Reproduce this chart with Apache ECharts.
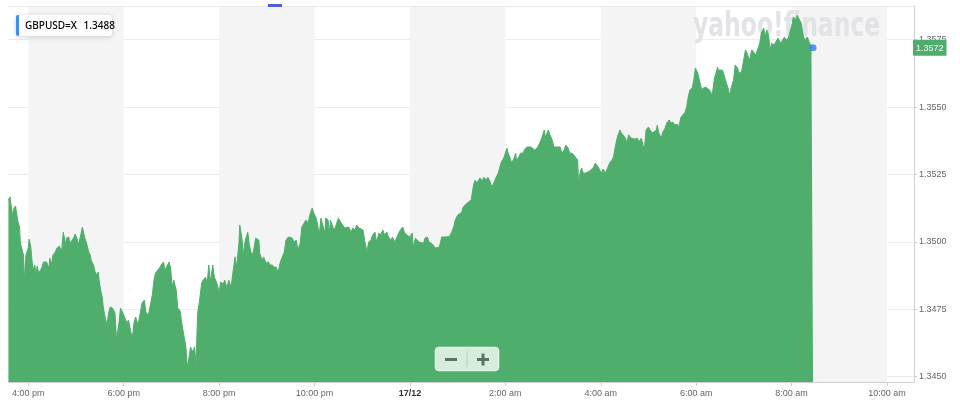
<!DOCTYPE html>
<html><head><meta charset="utf-8">
<script src="https://cdn.jsdelivr.net/npm/echarts@6/dist/echarts.min.js"></script>
<style>html,body{margin:0;padding:0;background:#fff}#c{width:960px;height:410px}</style>
</head><body><div id="c"></div><script>
// ---- data ----
const symbolName = 'GBPUSD=X';
const legendValue = '1.3488';
const watermark = 'yahoo!finance';
const startDay = [2021, 11, 16]; // 16 Dec (afternoon), next day 17/12
const axisStart = '15:34:28';
const axisEnd = '10:33:58';
const xTicks = ['16:00','18:00','20:00','22:00','00:00','02:00','04:00','06:00','08:00','10:00'];
const yTicks = [1.3450, 1.3475, 1.3500, 1.3525, 1.3550, 1.3575];
const yMin = 1.34480, yMax = 1.35875;
const times = [
'15:35','15:37','15:38','15:40','15:42','15:44','15:45','15:47','15:49','15:50','15:52','15:54','15:55','15:57',
'16:00','16:01','16:03','16:05','16:06','16:08','16:10','16:11','16:13','16:15','16:17','16:19','16:21','16:23','16:26','16:27','16:29','16:31','16:34','16:36','16:39','16:42','16:44','16:47','16:48','16:51','16:52','16:55','16:57','16:59',
'17:02','17:03','17:06','17:08','17:11','17:13','17:14','17:16','17:18','17:19','17:22','17:24','17:26','17:28','17:29','17:31','17:33','17:34','17:36','17:39','17:41','17:43','17:46','17:49','17:51','17:54','17:56','17:59',
'18:01','18:04','18:06','18:09','18:11','18:13','18:15','18:18','18:21','18:23','18:26','18:28','18:31','18:33','18:36','18:38','18:40','18:42','18:45','18:47','18:50','18:52','18:55','18:57','18:59',
'19:01','19:03','19:06','19:08','19:11','19:13','19:16','19:18','19:20','19:23','19:24','19:27','19:29','19:31','19:33','19:35','19:38','19:40','19:43','19:45','19:47','19:49','19:52','19:54','19:57',
'20:00','20:02','20:05','20:07','20:10','20:12','20:15','20:17','20:20','20:22','20:25','20:26','20:29','20:30','20:33','20:36','20:38','20:41','20:43','20:46','20:48','20:50','20:51','20:54','20:56','20:59',
'21:02','21:04','21:07','21:09','21:12','21:14','21:17','21:19','21:22','21:24','21:27','21:29','21:32','21:34','21:37','21:39','21:42','21:44','21:47','21:49','21:52','21:54','21:57','21:59',
'22:02','22:04','22:06','22:08','22:10','22:13','22:14','22:17','22:19','22:20','22:23','22:25','22:28','22:30','22:33','22:35','22:38','22:40','22:43','22:46','22:48','22:51','22:53','22:56','22:58',
'23:01','23:03','23:06','23:08','23:11','23:13','23:16','23:18','23:21','23:23','23:26','23:28','23:31','23:33','23:36','23:38','23:41','23:43','23:46','23:48','23:51','23:53','23:56','23:58',
'00:00','00:03','00:04','00:07','00:09','00:12','00:14','00:17','00:19','00:22','00:24','00:27','00:29','00:32','00:34','00:37','00:40','00:42','00:45','00:47','00:50','00:52','00:55','00:57',
'01:00','01:02','01:05','01:07','01:09','01:12','01:14','01:17','01:20','01:22','01:24','01:28','01:31','01:33','01:36','01:38','01:41','01:43','01:46','01:48','01:51','01:53','01:55','01:57','01:58',
'02:00','02:02','02:03','02:06','02:08','02:11','02:13','02:14','02:17','02:19','02:22','02:24','02:27','02:29','02:32','02:34','02:37','02:40','02:42','02:45','02:47','02:49','02:50','02:53','02:54','02:56','02:58',
'03:00','03:01','03:04','03:06','03:09','03:11','03:14','03:16','03:19','03:21','03:24','03:26','03:29','03:31','03:32','03:34','03:36','03:38','03:41','03:43','03:46','03:48','03:51','03:53','03:56','03:58',
'04:01','04:03','04:06','04:09','04:11','04:14','04:16','04:18','04:20','04:21','04:24','04:26','04:28','04:31','04:33','04:35','04:38','04:40','04:43','04:46','04:48','04:51','04:53','04:55','04:57',
'05:00','05:02','05:05','05:07','05:10','05:11','05:13','05:16','05:18','05:21','05:23','05:26','05:28','05:31','05:33','05:36','05:38','05:41','05:43','05:46','05:48','05:50','05:52','05:55','05:57','05:59',
'06:02','06:04','06:07','06:09','06:12','06:14','06:17','06:19','06:21','06:23','06:25','06:27','06:28','06:30','06:33','06:35','06:38','06:40','06:42','06:44','06:47','06:49','06:52','06:54','06:57','06:59',
'07:02','07:04','07:07','07:10','07:12','07:15','07:17','07:20','07:22','07:25','07:27','07:29','07:31','07:33','07:35','07:38','07:40','07:43','07:46','07:48','07:51','07:53','07:56','07:58',
'08:01','08:02','08:05','08:07','08:10','08:12','08:15','08:17','08:20','08:22','08:25','08:27'
];
const prices = [
1.35155,1.35167,1.35162,1.35099,1.35125,1.35133,1.35112,1.35074,1.35055,1.34995,1.34988,1.34951,1.34858,1.34951,
1.34977,1.35010,1.34984,1.34921,1.34895,1.34914,1.34877,1.34910,1.34884,1.34884,1.34903,1.34925,1.34921,1.34925,1.34903,1.34940,1.34914,1.34951,1.34962,1.34977,1.34984,1.34966,1.35036,1.34988,1.35014,1.35018,1.34995,1.35006,1.35014,1.35029,
1.35006,1.34988,1.35025,1.35055,1.35014,1.34999,1.35006,1.34962,1.34951,1.34932,1.34914,1.34888,1.34877,1.34888,1.34858,1.34821,1.34795,1.34765,1.34728,1.34691,1.34736,1.34758,1.34754,1.34736,1.34636,1.34699,1.34754,1.34736,
1.34736,1.34699,1.34710,1.34665,1.34647,1.34702,1.34721,1.34691,1.34739,1.34773,1.34784,1.34739,1.34728,1.34732,1.34803,1.34858,1.34884,1.34888,1.34903,1.34914,1.34925,1.34895,1.34914,1.34925,1.34903,
1.34832,1.34858,1.34821,1.34754,1.34743,1.34699,1.34647,1.34617,1.34535,1.34587,1.34610,1.34591,1.34610,1.34550,1.34736,1.34773,1.34847,1.34858,1.34869,1.34847,1.34914,1.34851,1.34914,1.34869,1.34847,
1.34814,1.34851,1.34843,1.34858,1.34829,1.34858,1.34832,1.34877,1.34944,1.34906,1.34999,1.35062,1.35006,1.34951,1.35006,1.35036,1.34988,1.34951,1.34962,1.35014,1.35018,1.35006,1.34958,1.34932,1.34944,1.34921,
1.34925,1.34914,1.34914,1.34906,1.34906,1.34884,1.34925,1.34940,1.34962,1.35006,1.35018,1.35014,1.35014,1.34999,1.35006,1.34970,1.34995,1.35055,1.35070,1.35081,1.35070,1.35099,1.35125,1.35107,
1.35088,1.35062,1.35025,1.35088,1.35081,1.35033,1.35088,1.35081,1.35033,1.35081,1.35055,1.35044,1.35070,1.35088,1.35073,1.35066,1.35051,1.35044,1.35055,1.35036,1.35051,1.35044,1.35062,1.35051,1.35055,
1.35044,1.35006,1.34962,1.34999,1.35006,1.35025,1.35036,1.34999,1.35033,1.35025,1.35044,1.35025,1.35036,1.35018,1.35006,1.35018,1.34999,1.35006,1.35033,1.35044,1.35055,1.35036,1.35025,1.35018,
1.35018,1.35033,1.34981,1.35014,1.35006,1.34999,1.35006,1.34995,1.35014,1.35018,1.34999,1.34995,1.34988,1.34977,1.34970,1.34981,1.35018,1.35025,1.35018,1.35025,1.35021,1.35033,1.35055,1.35081,
1.35099,1.35099,1.35110,1.35129,1.35125,1.35144,1.35147,1.35155,1.35211,1.35229,1.35218,1.35237,1.35226,1.35240,1.35229,1.35240,1.35222,1.35203,1.35222,1.35237,1.35255,1.35277,1.35296,1.35289,1.35311,
1.35329,1.35348,1.35333,1.35311,1.35292,1.35311,1.35329,1.35303,1.35315,1.35329,1.35329,1.35341,1.35352,1.35348,1.35352,1.35352,1.35341,1.35348,1.35359,1.35378,1.35385,1.35415,1.35389,1.35407,1.35415,1.35397,1.35385,
1.35366,1.35352,1.35352,1.35355,1.35352,1.35329,1.35341,1.35359,1.35348,1.35329,1.35329,1.35322,1.35311,1.35303,1.35222,1.35255,1.35274,1.35255,1.35255,1.35259,1.35263,1.35270,1.35277,1.35292,1.35281,1.35274,
1.35255,1.35270,1.35255,1.35277,1.35292,1.35303,1.35315,1.35348,1.35378,1.35389,1.35415,1.35404,1.35397,1.35385,1.35366,1.35397,1.35385,1.35378,1.35381,1.35385,1.35370,1.35385,1.35359,1.35348,1.35415,
1.35426,1.35415,1.35404,1.35400,1.35415,1.35433,1.35404,1.35385,1.35407,1.35422,1.35441,1.35452,1.35441,1.35444,1.35433,1.35437,1.35426,1.35463,1.35463,1.35481,1.35500,1.35537,1.35563,1.35571,1.35600,1.35645,
1.35626,1.35600,1.35563,1.35571,1.35574,1.35571,1.35563,1.35545,1.35563,1.35608,1.35626,1.35648,1.35637,1.35630,1.35637,1.35619,1.35589,1.35571,1.35545,1.35571,1.35600,1.35656,1.35645,1.35626,1.35630,1.35663,
1.35712,1.35700,1.35674,1.35712,1.35719,1.35693,1.35712,1.35737,1.35775,1.35793,1.35760,1.35786,1.35767,1.35712,1.35737,1.35730,1.35741,1.35756,1.35737,1.35745,1.35760,1.35749,1.35756,1.35749,
1.35812,1.35834,1.35823,1.35841,1.35823,1.35812,1.35760,1.35749,1.35760,1.35741,1.35723,1.35720
];

// ---- helpers ----
function toTs(hms) {
  const p = hms.split(':').map(Number);
  const day = p[0] >= 12 ? startDay[2] : startDay[2] + 1;
  return new Date(startDay[0], startDay[1], day, p[0], p[1], p[2] || 0).getTime();
}
const seriesData = times.map((t, i) => [toTs(t), prices[i]]);
const last = seriesData[seriesData.length - 1];
const xMin = toTs(axisStart), xMax = toTs(axisEnd);
const xTickValues = xTicks.map(toTs);
const GREEN = '#4fae6b';
const BTN = '#5b7262';

function fmtX(v) {
  const d = new Date(v);
  const h = d.getHours(), m = d.getMinutes();
  if (h === 0 && m === 0) {
    return '{d|' + String(d.getDate()).padStart(2, '0') + '/' + String(d.getMonth() + 1).padStart(2, '0') + '}';
  }
  const hh = h % 12 === 0 ? 12 : h % 12;
  return hh + ':' + String(m).padStart(2, '0') + ' ' + (h < 12 ? 'am' : 'pm');
}

const chart = echarts.init(document.getElementById('c'), null, {renderer: 'canvas'});
chart.setOption({
  animation: false,
  grid: {left: 8, right: 46, top: 6, bottom: 28, outerBoundsMode: 'none', containLabel: false},
  xAxis: [{
    type: 'value', min: xMin, max: xMax, scale: true,
    axisLine: {show: true, lineStyle: {color: '#cfcfcf', width: 1}},
    axisTick: {show: true, length: 4, customValues: xTickValues, lineStyle: {color: '#cfcfcf'}},
    axisLabel: {
      customValues: xTickValues,
      color: '#666', fontSize: 9, fontFamily: 'Liberation Sans', margin: 7, hideOverlap: false,
      formatter: fmtX,
      rich: {d: {color: '#333', fontSize: 9, fontFamily: 'Liberation Sans', fontWeight: 'bold'}}
    },
    splitLine: {show: false},
    splitArea: {show: true, areaStyle: {color: ['#f4f4f4', 'rgba(255,255,255,0)']}}
  }, {
    type: 'value', min: xMin, max: xMax, scale: true, position: 'top',
    axisLine: {show: true, lineStyle: {color: '#e9e9e9'}},
    axisTick: {show: false}, axisLabel: {show: false}, splitLine: {show: false}
  }],
  yAxis: {
    type: 'value', position: 'right', min: yMin, max: yMax, scale: true,
    axisLine: {show: true, lineStyle: {color: '#cfcfcf'}},
    axisTick: {show: true, length: 3, customValues: yTicks, lineStyle: {color: '#cfcfcf'}},
    axisLabel: {
      customValues: yTicks, color: '#666', fontSize: 9, fontFamily: 'Liberation Sans', margin: 5,
      formatter: v => Number(v).toFixed(4)
    },
    splitLine: {show: true, lineStyle: {color: '#ececec', width: 1}},
    axisPointer: {
      show: true, status: 'show', value: last[1], triggerTooltip: false,
      lineStyle: {color: 'rgba(0,0,0,0)', width: 0},
      label: {show: true, formatter: p => Number(p.value).toFixed(4), backgroundColor: GREEN,
        color: '#fff', fontSize: 9, fontFamily: 'Liberation Sans', padding: [4, 3, 3, 3],
        borderRadius: 1, margin: -1, shadowBlur: 0}
    }
  },
  graphic: [
    {type: 'text', z: 1, left: 693, top: 10,
     style: {text: watermark, font: 'bold 34px "DejaVu Sans"', fill: '#e2e3e7'}, scaleX: 0.69},
    {type: 'rect', z: 100, shape: {x: 268, y: 4, width: 14, height: 3}, style: {fill: '#4d5ed8'}},
    {type: 'rect', z: 100, shape: {x: 16, y: 15, width: 96, height: 21, r: 3},
     style: {fill: '#fff', shadowBlur: 5, shadowColor: 'rgba(0,0,0,0.18)', shadowOffsetY: 1}},
    {type: 'rect', z: 101, shape: {x: 16, y: 15, width: 3, height: 21, r: [2, 0, 0, 2]}, style: {fill: '#3f8ef2'}},
    {type: 'text', z: 102, x: 25, y: 26,
     style: {text: '{a|' + symbolName + '}  {a|' + legendValue + '}', verticalAlign: 'middle',
       rich: {a: {fontSize: 10, fontFamily: 'Noto Sans', fontWeight: 500, color: '#2b2b2b'}}}},
    // zoom buttons
    {type: 'rect', z: 100, shape: {x: 435, y: 347, width: 64, height: 24, r: 4},
     style: {fill: 'rgba(236,245,238,0.88)', stroke: 'rgba(255,255,255,0.5)', lineWidth: 1}},
    {type: 'line', z: 101, shape: {x1: 467, y1: 351, x2: 467, y2: 367}, style: {stroke: 'rgba(90,120,98,0.25)', lineWidth: 1}},
    {type: 'rect', z: 101, shape: {x: 445, y: 358, width: 12, height: 3}, style: {fill: BTN}},
    {type: 'rect', z: 101, shape: {x: 477, y: 358, width: 12, height: 3}, style: {fill: BTN}},
    {type: 'rect', z: 101, shape: {x: 481.5, y: 353.5, width: 3, height: 12}, style: {fill: BTN}}
  ],
  series: [{
    type: 'line', data: seriesData, showSymbol: false, symbol: 'none', z: 2,
    lineStyle: {color: GREEN, width: 1},
    areaStyle: {color: GREEN, opacity: 1}
  }, {
    type: 'scatter', data: [last], symbolSize: 7, z: 5,
    itemStyle: {color: '#2f80f0'}
  }]
});
</script></body></html>
